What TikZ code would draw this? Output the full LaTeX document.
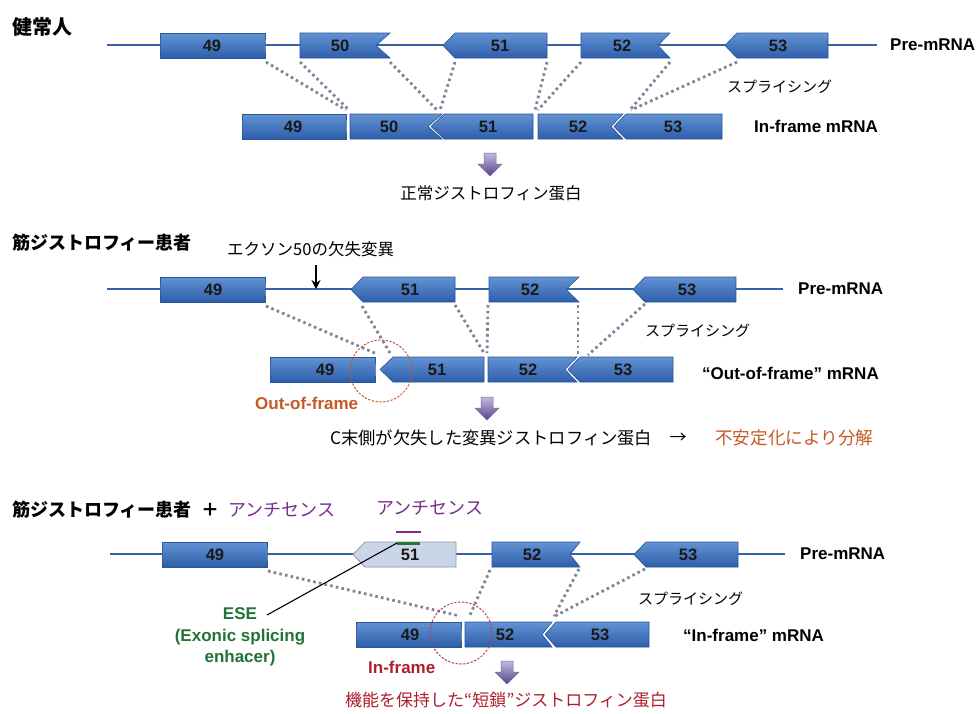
\documentclass[tikz,border=0pt]{standalone}
\usepackage{fontspec}
\setmainfont{Liberation Sans}
\newfontfamily\jp{Noto Sans CJK JP}
\usetikzlibrary{arrows.meta}
\definecolor{exT}{HTML}{6393D4}
\definecolor{exB}{HTML}{2D5EAA}
\definecolor{exD}{HTML}{2A5597}
\definecolor{rna}{HTML}{3562AA}
\definecolor{dotc}{HTML}{7F849A}
\definecolor{purp}{HTML}{7A2E90}
\definecolor{esec}{HTML}{237334}
\definecolor{orng}{HTML}{C65A26}
\definecolor{dred}{HTML}{AE1F2C}
\definecolor{arT}{HTML}{C3B8DE}
\definecolor{arB}{HTML}{54458A}
\definecolor{lexF}{HTML}{CAD6E7}
\definecolor{lexD}{HTML}{8797B3}
\tikzset{
 exon/.style={top color=exT, bottom color=exB, draw=exD, line width=0.6pt, line join=miter},
 lightexon/.style={fill=lexF, draw=lexD, line width=0.8pt, line join=miter},
 exlab/.style={font=\fontsize{16.5}{18}\selectfont\bfseries, text=black!90, inner sep=0pt},
 rnaline/.style={draw=rna, line width=2.6pt},
 dots/.style={draw=dotc, line width=2.8pt, dash pattern=on 2.6pt off 3.2pt},
 jptitle/.style={font=\jp\fontsize{18}{21}\selectfont\bfseries, anchor=west, inner sep=0pt},
 jplab/.style={font=\jp\fontsize{16.5}{19}\selectfont, anchor=west, inner sep=0pt},
 enlab/.style={font=\fontsize{17}{20}\selectfont\bfseries, anchor=west, inner sep=0pt},
 parrow/.style={top color=arT, bottom color=arB, draw=arB!80, line width=0.5pt},
 ring/.style={circle, line width=1pt, dash pattern=on 2.2pt off 1.6pt, minimum size=62pt, inner sep=0pt},
}
% name, xpoint, x1, x2, xnotch, top, bottom, label, label x
\newcommand\exon[9]{%
 \path[exon] (#2,{(#6+#7)/2}) -- (#3,#6) -- (#4,#6) -- (#5,{(#6+#7)/2}) -- (#4,#7) -- (#3,#7) -- cycle;
 \coordinate (#1bl) at (#3,#7); \coordinate (#1br) at (#4,#7);
 \node[exlab] (#1) at (#9,{(#6+#7)/2}) {#8};}
\newcommand\parw[4]{%
 \path[parrow] (#2-6,#3) -- (#2+6,#3) -- (#2+6,#3+11) -- (#2+12,#3+11) -- (#2,#4) -- (#2-12,#3+11) -- (#2-6,#3+11) -- cycle;
 \coordinate (#1) at (#2,#4);}
\begin{document}
\begin{tikzpicture}[x=1pt,y=-1pt]
\useasboundingbox (0,0) rectangle (977,713);
\fill[white] (0,0) rectangle (977,713);
% ---------------- section 1 ----------------
\coordinate (l1a) at (107,45); \coordinate (l1b) at (877,45);
\draw[rnaline] (l1a) -- (l1b);
\exon{a49}{160}{160}{265}{265}{33}{58}{49}{212}
\exon{a50}{300}{300}{390}{376}{33}{58}{50}{340}
\exon{a51}{443}{455}{547}{547}{33}{58}{51}{500}
\exon{a52}{581}{581}{670}{658}{33}{58}{52}{622}
\exon{a53}{725}{737}{828}{828}{33}{58}{53}{778}
\foreach \s/\e in {266/346, 300/349, 390/437, 455/440, 547/535, 581/538, 670/630, 737/631}
  {\coordinate (p) at (\s,62); \coordinate (q) at (\e,110); \draw[dots] (p) -- (q);}
\exon{b49}{242}{242}{346}{346}{114}{139}{49}{293}
\exon{b50}{350}{350}{442}{428}{114}{139}{50}{389}
\exon{b51}{431}{444}{533}{533}{114}{139}{51}{488}
\exon{b52}{538}{538}{623}{611}{114}{139}{52}{578}
\exon{b53}{614}{626}{722}{722}{114}{139}{53}{673}
\node[jptitle, font=\jp\fontsize{20}{22}\selectfont\bfseries] (t1) at (12,27) {健常人};
\node[enlab] (pre1) at (890,45) {Pre-mRNA};
\node[jplab, font=\jp\fontsize{15}{18}\selectfont] (sp1) at (727,87) {スプライシング};
\node[enlab] (m1) at (754,126) {In-frame mRNA};
\parw{ar1}{490}{153}{176}
\node[jplab, anchor=center] (r1) at (491,193) {正常ジストロフィン蛋白};
% ---------------- section 2 ----------------
\coordinate (l2a) at (107,289); \coordinate (l2b) at (783,289);
\draw[rnaline] (l2a) -- (l2b);
\exon{c49}{160}{160}{265}{265}{277}{302}{49}{213}
\exon{c51}{351}{363}{455}{455}{277}{302}{51}{410}
\exon{c52}{489}{489}{579}{566}{277}{302}{52}{530}
\exon{c53}{633}{645}{736}{736}{277}{302}{53}{687}
\foreach \s/\t/\e/\f in {266/306/377/354, 362/306/390/353, 455/305/484/353, 488/305/487/353, 578/305/578/355, 645/304/588/355}
  {\coordinate (p) at (\s,\t); \coordinate (q) at (\e,\f); \draw[dots] (p) -- (q);}
\exon{d49}{270}{270}{375}{375}{357}{382}{49}{325}
\exon{d51}{380}{393}{484}{484}{357}{382}{51}{437}
\exon{d52}{488}{488}{577}{565}{357}{382}{52}{528}
\exon{d53}{568}{580}{673}{673}{357}{382}{53}{623}
\node[ring, draw=orng] (oc) at (381,371) {};
\node[jptitle] (t2) at (12,243) {筋ジストロフィー患者};
\node[jplab] (del) at (227,249) {エクソン50の欠失変異};
\coordinate (ka) at (316,265); \coordinate (kb) at (316,289);
\draw[line width=1.8pt, -{Stealth[length=9pt,width=9pt]}] (ka) -- (kb);
\node[enlab] (pre2) at (798,289) {Pre-mRNA};
\node[jplab, font=\jp\fontsize{15}{18}\selectfont] (sp2) at (645,331) {スプライシング};
\node[enlab] (m2) at (702,373) {“Out-of-frame” mRNA};
\node[enlab, text=orng] (of) at (255,403) {Out-of-frame};
\parw{ar2}{487}{397}{420}
\node[jplab, font=\jp\fontsize{17.3}{20}\selectfont] (r2) at (330,438) {C末側が欠失した変異ジストロフィン蛋白};
\node[jplab, font=\jp\fontsize{17}{20}\selectfont, anchor=center] (arr) at (678,438) {→};
\node[jplab, font=\jp\fontsize{17.6}{20}\selectfont, text=orng] (deg) at (715,438) {不安定化により分解};
% ---------------- section 3 ----------------
\coordinate (l3a) at (110,554); \coordinate (l3b) at (785,554);
\draw[rnaline] (l3a) -- (l3b);
\exon{e49}{162}{162}{267}{267}{542}{567}{49}{215}
\begin{scope}[exon/.style={lightexon}]
\exon{e51}{353}{365}{456}{456}{542}{567}{51}{410}
\end{scope}
\exon{e52}{492}{492}{580}{570}{542}{567}{52}{532}
\exon{e53}{634}{646}{738}{738}{542}{567}{53}{688}
\coordinate (pb1) at (396,532); \coordinate (pb2) at (421,532);
\draw[purp, line width=2.6pt] (pb1) -- (pb2);
\coordinate (gb1) at (397,543); \coordinate (gb2) at (420,543);
\draw[esec, line width=3pt] (gb1) -- (gb2);
\foreach \s/\t/\e/\f in {268/571/460/616, 490/570/470/615, 579/569/554/616, 645/569/555/616}
  {\coordinate (p) at (\s,\t); \coordinate (q) at (\e,\f); \draw[dots] (p) -- (q);}
\exon{f49}{356}{356}{461}{461}{622}{647}{49}{410}
\exon{f52}{465}{465}{552}{542}{622}{647}{52}{505}
\exon{f53}{545}{556}{649}{649}{622}{647}{53}{600}
\node[ring, draw=dred!85] (rc) at (461,633) {};
\node[jptitle] (t3) at (12,510) {筋ジストロフィー患者};
\node[jptitle, anchor=center] (plus) at (210,510) {＋};
\node[jplab, font=\jp\fontsize{18}{21}\selectfont, text=purp] (as1) at (228,510) {アンチセンス};
\node[jplab, font=\jp\fontsize{18}{21}\selectfont, text=purp] (as2) at (376,508) {アンチセンス};
\node[enlab] (pre3) at (800,554) {Pre-mRNA};
\node[jplab, font=\jp\fontsize{15}{18}\selectfont] (sp3) at (638,599) {スプライシング};
\node[enlab] (m3) at (683,635) {“In-frame” mRNA};
\node[enlab, text=dred] (inf) at (368,667) {In-frame};
\node[font=\fontsize{17}{21.5}\selectfont\bfseries, text=esec, align=center, inner sep=0pt] (ese) at (240,637) {ESE\\(Exonic splicing\\enhacer)};
\coordinate (esea) at (267,615);
\draw[line width=1.1pt] (esea) -- (gb1);
\parw{ar3}{507}{661}{684}
\node[jplab, font=\jp\fontsize{17}{20}\selectfont, text=dred] (r3) at (345,700) {機能を保持した“短鎖”ジストロフィン蛋白};
\end{tikzpicture}
\end{document}
